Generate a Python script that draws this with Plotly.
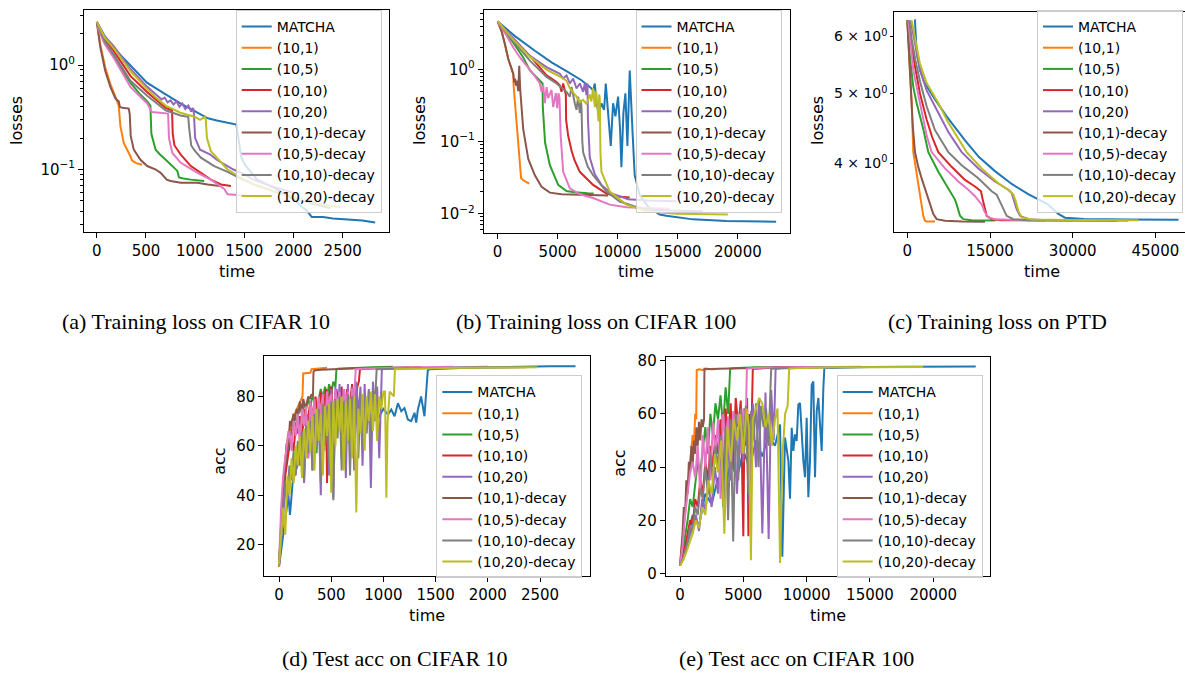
import plotly.graph_objects as go

# ---------------- series names / colours ----------------
NAMES = ["MATCHA", "(10,1)", "(10,5)", "(10,10)", "(10,20)",
         "(10,1)-decay", "(10,5)-decay", "(10,10)-decay", "(10,20)-decay"]
COLORS = ["#1f77b4", "#ff7f0e", "#2ca02c", "#d62728", "#9467bd",
          "#8c564b", "#e377c2", "#7f7f7f", "#bcbd22"]

# ---------------- (a) training loss CIFAR 10 ----------------
A_T_MATCHA = [0, 80, 170, 340, 510, 680, 850, 1000, 1130, 1220, 1390, 1420, 1440, 1470, 1510, 1630, 1830, 2000, 2085, 2140, 2185, 2300, 2400, 2550, 2700, 2830]
A_V_MATCHA = [2.6, 1.9, 1.47, 0.99, 0.68, 0.54, 0.43, 0.36, 0.31, 0.295, 0.275, 0.27, 0.2, 0.13, 0.11, 0.08, 0.065, 0.052, 0.044, 0.04, 0.035, 0.035, 0.034, 0.033, 0.0325, 0.031]
A_T_10_1 = [0, 35, 86, 138, 189, 223, 240, 274, 342, 359, 400, 461]
A_V_10_1 = [2.6, 1.6, 0.95, 0.66, 0.5, 0.41, 0.26, 0.18, 0.134, 0.122, 0.115, 0.111]
A_T_10_5 = [0, 80, 172, 342, 444, 513, 545, 555, 598, 640, 717, 768, 819, 836, 880, 956, 1092]
A_V_10_5 = [2.5, 1.7, 1.2, 0.68, 0.52, 0.45, 0.41, 0.22, 0.155, 0.14, 0.12, 0.108, 0.097, 0.084, 0.082, 0.08, 0.0776]
A_T_10_10 = [0, 80, 172, 342, 513, 640, 700, 765, 772, 790, 854, 956, 1058, 1160, 1262, 1364]
A_V_10_10 = [2.6, 1.8, 1.37, 0.79, 0.55, 0.43, 0.39, 0.37, 0.22, 0.17, 0.139, 0.108, 0.093, 0.08, 0.072, 0.0695]
A_T_10_20 = [0, 80, 172, 342, 513, 600, 630, 660, 690, 720, 750, 780, 810, 840, 870, 900, 930, 960, 980, 988, 1000, 1050, 1150, 1220, 1389, 1500, 1592, 1800, 1999]
A_V_10_20 = [2.6, 1.9, 1.52, 0.92, 0.62, 0.53, 0.5, 0.47, 0.49, 0.44, 0.46, 0.42, 0.45, 0.4, 0.43, 0.38, 0.41, 0.36, 0.39, 0.34, 0.2, 0.155, 0.14, 0.124, 0.1, 0.09, 0.08, 0.068, 0.06]
A_T_10_1D = [0, 35, 86, 138, 189, 223, 235, 260, 325, 335, 345, 376, 444, 513, 600, 649, 711, 751, 854, 1024, 1127, 1250]
A_V_10_1D = [2.6, 1.5, 0.88, 0.62, 0.48, 0.45, 0.397, 0.39, 0.384, 0.34, 0.21, 0.155, 0.124, 0.108, 0.1, 0.093, 0.08, 0.0776, 0.0748, 0.0748, 0.072, 0.0695]
A_T_10_5D = [0, 80, 172, 342, 513, 560, 640, 725, 734, 768, 854, 1024, 1160, 1296, 1330, 1450, 1670]
A_V_10_5D = [2.4, 1.6, 1.18, 0.62, 0.43, 0.356, 0.35, 0.344, 0.2, 0.144, 0.116, 0.093, 0.08, 0.065, 0.058, 0.057, 0.055]
A_T_10_10D = [0, 80, 172, 342, 513, 700, 850, 930, 939, 960, 1000, 1058, 1194, 1330, 1450, 1592, 1800, 1999, 2200, 2372]
A_V_10_10D = [2.5, 1.7, 1.27, 0.71, 0.51, 0.37, 0.33, 0.32, 0.25, 0.17, 0.15, 0.13, 0.108, 0.095, 0.083, 0.072, 0.062, 0.054, 0.047, 0.0425]
A_T_10_20D = [0, 80, 172, 342, 513, 600, 700, 850, 950, 1000, 1050, 1100, 1108, 1120, 1160, 1262, 1330, 1450, 1600, 1800, 2067, 2300, 2473]
A_V_10_20D = [2.6, 1.85, 1.45, 0.88, 0.59, 0.49, 0.41, 0.35, 0.33, 0.32, 0.3, 0.32, 0.3, 0.2, 0.15, 0.116, 0.1, 0.085, 0.072, 0.062, 0.052, 0.046, 0.0434]

# ---------------- (b) training loss CIFAR 100 ----------------
B_T_MATCHA = [0, 1440, 3100, 4487, 5872, 6980, 7673, 7950, 8090, 8227, 8421, 8642, 8864, 9003, 9196, 9418, 9612, 9806, 10027, 10194, 10304, 10471, 10637, 10803, 10997, 11135, 11246, 11412, 11828, 12520, 13490, 14044, 16260, 19030, 23185]
B_V_MATCHA = [4.66, 2.91, 1.82, 1.26, 0.92, 0.71, 0.574, 0.517, 0.64, 0.34, 0.25, 0.34, 0.276, 0.64, 0.25, 0.087, 0.34, 0.224, 0.42, 0.147, 0.044, 0.25, 0.466, 0.087, 0.97, 0.378, 0.12, 0.034, 0.018, 0.0125, 0.0097, 0.0093, 0.0083, 0.0079, 0.0077]
B_T_10_1 = [0, 332, 609, 886, 1163, 1302, 1330, 1496, 1717, 1884, 1950, 2133, 2632]
B_V_10_1 = [4.66, 3.4, 2.24, 1.4, 1.02, 0.87, 0.6, 0.25, 0.087, 0.034, 0.031, 0.029, 0.026]
B_T_10_5 = [0, 600, 1302, 2133, 2687, 3379, 3656, 3740, 3760, 3950, 4349, 5041, 5734, 6400, 7500, 8000]
B_V_10_5 = [4.66, 3.3, 2.36, 1.47, 0.97, 0.75, 0.67, 0.64, 0.3, 0.097, 0.047, 0.025, 0.0206, 0.0198, 0.0191, 0.019]
B_T_10_10 = [0, 1302, 2687, 3518, 4072, 4487, 4903, 5180, 5318, 5457, 5596, 5679, 5700, 5873, 6150, 6400, 6842, 7950, 9058, 10000, 10997]
B_V_10_10 = [4.66, 2.62, 1.55, 1.08, 0.83, 0.75, 0.67, 0.6, 0.49, 0.64, 0.48, 0.45, 0.2, 0.12, 0.075, 0.055, 0.038, 0.025, 0.019, 0.0172, 0.0167]
B_T_10_20 = [0, 1302, 2687, 4072, 4626, 5180, 5457, 5734, 6011, 6288, 6565, 6842, 7119, 7258, 7396, 7479, 7520, 7673, 8088, 8642, 9473, 10858, 12500, 14875]
B_V_10_20 = [4.66, 2.76, 1.55, 1.08, 0.97, 0.87, 0.75, 0.83, 0.64, 0.75, 0.545, 0.64, 0.49, 0.64, 0.44, 0.64, 0.2, 0.06, 0.035, 0.025, 0.019, 0.0158, 0.0152, 0.0148]
B_T_10_1D = [0, 332, 609, 886, 1163, 1302, 1385, 1450, 1523, 1600, 1717, 1800, 1884, 2133, 2548, 3102, 3656, 4349, 5318, 6980, 8642, 9200]
B_V_10_1D = [4.66, 3.4, 2.24, 1.4, 1.02, 0.87, 0.66, 0.75, 0.6, 0.7, 0.5, 1.13, 0.52, 0.147, 0.0574, 0.034, 0.0236, 0.0195, 0.0185, 0.0182, 0.0178, 0.0178]
B_T_10_5D = [0, 609, 1302, 1856, 2410, 2964, 3518, 3656, 3795, 3933, 4072, 4210, 4487, 4626, 4848, 4958, 5069, 5150, 5250, 5318, 5457, 6011, 6842, 7950, 9335, 10720, 12500, 14321]
B_V_10_5D = [4.66, 3.23, 2.02, 1.47, 1.13, 0.87, 0.64, 0.49, 0.6, 0.34, 0.57, 0.4, 0.52, 0.3, 0.47, 0.29, 0.47, 0.4, 0.12, 0.071, 0.038, 0.0224, 0.0185, 0.0164, 0.0133, 0.0122, 0.012, 0.0117]
B_T_10_10D = [0, 1302, 2687, 4072, 4903, 5457, 5734, 6011, 6150, 6427, 6565, 6704, 6842, 6925, 6980, 7050, 7119, 7500, 7950, 9058, 10166, 12105, 14321, 17091]
B_V_10_10D = [4.66, 2.49, 1.33, 0.79, 0.64, 0.545, 0.49, 0.42, 0.574, 0.34, 0.276, 0.42, 0.248, 0.378, 0.3, 0.1, 0.071, 0.045, 0.034, 0.0202, 0.0147, 0.0115, 0.011, 0.0108]
B_T_10_20D = [0, 1302, 2687, 4072, 5180, 5734, 6011, 6288, 6565, 6842, 7119, 7396, 7673, 7800, 7950, 8088, 8200, 8300, 8400, 8450, 8504, 8560, 8642, 9335, 10720, 12382, 14875, 19169]
B_V_10_20D = [4.66, 2.6, 1.5, 1.0, 0.8, 0.7, 0.55, 0.48, 0.42, 0.35, 0.38, 0.33, 0.45, 0.36, 0.55, 0.3, 0.5, 0.32, 0.19, 0.45, 0.4, 0.07, 0.038, 0.0202, 0.0133, 0.0108, 0.0099, 0.0097]

# ---------------- (c) training loss PTD ----------------
C_T_MATCHA = [1250, 1390, 1700, 2300, 3000, 4700, 7100, 9000, 10500, 13000, 15900, 19000, 22000, 24500, 25600, 26500, 27400, 28600, 32000, 40000, 49200]
C_V_MATCHA = [6.32, 6.32, 5.7, 5.39, 5.2, 4.95, 4.65, 4.45, 4.3, 4.08, 3.9, 3.74, 3.62, 3.54, 3.5, 3.45, 3.4, 3.36, 3.345, 3.34, 3.337]
C_T_10_1 = [0, 300, 600, 800, 1089, 1996, 2600, 2903, 3205, 3500, 5020]
C_V_10_1 = [6.32, 5.8, 5.2, 4.85, 4.145, 3.733, 3.506, 3.38, 3.327, 3.32, 3.318]
C_T_10_5 = [0, 484, 1100, 1693, 2903, 3810, 5625, 7439, 8649, 8951, 9253, 9556, 10160, 11673, 16000]
C_V_10_5 = [6.32, 5.6, 5.1, 4.85, 4.46, 4.145, 3.893, 3.694, 3.56, 3.506, 3.434, 3.38, 3.344, 3.333, 3.33]
C_T_10_10 = [200, 700, 1300, 2298, 3508, 4500, 5625, 8044, 10463, 12277, 13366, 13608, 13971, 14394, 15301, 17116, 25000]
C_V_10_10 = [6.32, 5.9, 5.5, 5.0, 4.6, 4.35, 4.145, 3.954, 3.792, 3.713, 3.656, 3.58, 3.47, 3.38, 3.344, 3.333, 3.33]
C_T_10_20 = [600, 1500, 2298, 3508, 5625, 7439, 9858, 12882, 15906, 18325, 18930, 19233, 19838, 20442, 21954, 24978, 30000]
C_V_10_20 = [6.32, 5.8, 5.4, 5.05, 4.7, 4.42, 4.145, 3.934, 3.772, 3.675, 3.637, 3.58, 3.452, 3.38, 3.344, 3.333, 3.33]
C_T_10_1D = [0, 300, 700, 1000, 1391, 2000, 2600, 3508, 4113, 4717, 5322, 6834, 10000, 14092]
C_V_10_1D = [6.32, 5.7, 4.9, 4.5, 4.145, 3.95, 3.81, 3.62, 3.506, 3.4, 3.344, 3.327, 3.32, 3.317]
C_T_10_5D = [180, 600, 1089, 2298, 3508, 4415, 6834, 9253, 11068, 12277, 13487, 14092, 14697, 15906, 20000, 30000, 40098]
C_V_10_5D = [6.32, 5.9, 5.386, 4.85, 4.37, 4.145, 3.934, 3.772, 3.675, 3.599, 3.506, 3.416, 3.362, 3.344, 3.335, 3.33, 3.327]
C_T_10_10D = [360, 800, 1500, 2298, 3508, 5000, 7439, 9858, 12882, 15301, 16209, 16814, 17418, 18023, 19233, 21954, 30000, 38000]
C_V_10_10D = [6.32, 5.95, 5.55, 5.2, 4.8, 4.45, 4.145, 3.975, 3.812, 3.656, 3.618, 3.543, 3.452, 3.38, 3.344, 3.333, 3.33, 3.328]
C_T_10_20D = [786, 1500, 2298, 3508, 5625, 7439, 10765, 13487, 16511, 18628, 19233, 19656, 20140, 20745, 22559, 30000, 41900]
C_V_10_20D = [6.32, 5.92, 5.5, 5.17, 4.85, 4.555, 4.145, 3.934, 3.752, 3.656, 3.618, 3.543, 3.434, 3.362, 3.34, 3.335, 3.333]

# ---------------- (d) test acc CIFAR 10 ----------------
D_T_MATCHA = [0, 30, 60, 90, 105, 130, 160, 200, 250, 300, 350, 400, 450, 500, 550, 600, 650, 700, 750, 800, 850, 900, 950, 1000, 1043, 1075, 1107, 1139, 1171, 1202, 1234, 1266, 1298, 1314, 1330, 1361, 1393, 1409, 1425, 1440, 1600, 1800, 2000, 2200, 2400, 2600, 2840]
D_V_MATCHA = [11, 20, 30, 40, 32, 45, 50, 55, 58, 62, 60, 65, 63, 68, 66, 70, 67, 72, 69, 73, 70, 74, 71, 75, 72.7, 74.7, 72, 77.3, 74, 75.3, 70.7, 70, 73.4, 69.4, 74.7, 80, 72, 80.6, 90.6, 91, 91.4, 91.6, 91.8, 92, 92.1, 92.2, 92.2]
D_T_10_1 = [0, 15, 30, 45, 60, 75, 90, 105, 120, 140, 160, 180, 200, 215, 225, 232, 260, 300, 312, 350, 400, 460]
D_V_10_1 = [11, 25, 38, 47, 55, 60, 66, 63, 70, 72, 74, 76, 78, 79, 80, 89.3, 89.5, 89.6, 91, 91.2, 91.5, 91.6]
D_T_10_5 = [0, 20, 40, 60, 80, 100, 120, 140, 160, 180, 200, 220, 240, 260, 280, 300, 320, 340, 360, 380, 400, 420, 440, 460, 480, 500, 520, 540, 550, 560, 700, 900, 1090]
D_V_10_5 = [12, 30, 45, 52, 58, 62, 66, 70, 68, 72, 76, 73, 77, 75, 79, 76, 80, 78, 57, 79, 83, 79, 84, 80, 85, 81, 86, 84, 91, 91.2, 91.5, 91.8, 92]
D_T_10_10 = [0, 20, 40, 60, 80, 100, 120, 140, 160, 180, 200, 225, 250, 275, 300, 325, 350, 375, 400, 425, 450, 460, 475, 500, 525, 550, 575, 600, 625, 650, 675, 700, 725, 750, 765, 775, 900, 1100, 1364]
D_V_10_10 = [12, 28, 40, 48, 55, 60, 63, 58, 68, 65, 72, 66, 75, 70, 78, 72, 80, 68, 82, 74, 83, 45, 80, 84, 70, 83, 76, 84, 60, 83, 75, 85, 70, 84, 86, 91, 91.3, 91.6, 91.8]
D_T_10_20 = [0, 20, 40, 60, 80, 100, 120, 140, 160, 180, 200, 220, 240, 260, 280, 300, 320, 340, 360, 380, 400, 420, 440, 460, 480, 500, 520, 540, 560, 580, 600, 620, 640, 660, 680, 700, 720, 740, 760, 780, 800, 820, 840, 860, 880, 900, 920, 940, 960, 975, 985, 1100, 1300, 1500, 1700, 2000]
D_V_10_20 = [12, 22, 35, 42, 38, 50, 46, 55, 48, 60, 52, 65, 45, 70, 55, 72, 50, 75, 60, 78, 40, 80, 65, 82, 48, 83, 39, 84, 70, 85, 55, 83, 47, 85, 62, 84, 50, 86, 72, 84, 52, 85, 65, 83, 43, 86, 70, 84, 55, 82, 91, 91.3, 91.5, 91.7, 91.8, 92]
D_T_10_1D = [0, 15, 25, 40, 51, 60, 73, 85, 95, 105, 120, 137, 150, 169, 185, 200, 215, 232, 250, 264, 280, 296, 312, 325, 330, 340, 400, 500, 600, 800, 1000, 1250]
D_V_10_1D = [12, 22, 31, 42, 50, 56, 61, 58, 65, 70, 68, 73, 70, 75, 73, 78, 74, 79, 76, 77, 80, 79, 81, 80, 90, 90.5, 90.8, 91, 91.2, 91.5, 91.6, 91.7]
D_T_10_5D = [0, 20, 40, 60, 80, 100, 120, 140, 160, 180, 200, 220, 240, 260, 280, 300, 320, 340, 360, 380, 400, 420, 440, 460, 480, 500, 520, 540, 560, 580, 600, 620, 640, 660, 680, 700, 720, 735, 800, 1000, 1300, 1670]
D_V_10_5D = [12, 35, 48, 56, 62, 66, 58, 70, 64, 73, 60, 75, 68, 76, 55, 78, 70, 79, 62, 80, 72, 81, 58, 82, 74, 81, 66, 83, 76, 82, 64, 83, 78, 82, 70, 83, 80, 91, 91.2, 91.5, 91.7, 92]
D_T_10_10D = [0, 20, 40, 60, 80, 100, 120, 140, 160, 180, 200, 220, 240, 260, 280, 300, 320, 340, 360, 380, 400, 420, 440, 460, 480, 500, 520, 540, 560, 580, 600, 620, 640, 660, 680, 700, 720, 740, 760, 780, 800, 820, 840, 860, 880, 900, 920, 935, 1050, 1300, 1700, 2370]
D_V_10_10D = [12, 25, 35, 45, 40, 52, 48, 58, 50, 62, 55, 66, 46, 68, 57, 70, 50, 73, 62, 75, 45, 77, 60, 76, 52, 78, 38, 79, 63, 80, 50, 78, 58, 81, 48, 80, 65, 79, 55, 81, 60, 80, 66, 82, 62, 83, 78, 91, 91.2, 91.4, 91.6, 91.8]
D_T_10_20D = [0, 10, 20, 30, 40, 50, 60, 80, 100, 120, 140, 160, 180, 200, 220, 240, 260, 280, 300, 320, 340, 360, 380, 400, 420, 440, 460, 480, 500, 520, 540, 560, 580, 600, 620, 640, 660, 680, 700, 720, 740, 760, 780, 800, 820, 840, 860, 880, 900, 920, 940, 960, 980, 1000, 1015, 1028, 1040, 1060, 1080, 1100, 1110, 1300, 1600, 2000, 2473]
D_V_10_20D = [12, 18, 24, 28, 35, 30, 24, 48, 40, 55, 45, 60, 52, 64, 47, 67, 55, 70, 58, 72, 50, 75, 62, 73, 48, 76, 64, 77, 41, 78, 60, 79, 66, 80, 50, 78, 62, 79, 55, 80, 33, 75, 65, 81, 58, 80, 70, 82, 66, 81, 62, 80, 75, 82, 82, 39, 70, 82, 81, 80, 91, 91.3, 91.5, 91.7, 91.8]

# ---------------- (e) test acc CIFAR 100 ----------------
E_T_MATCHA = [0, 300, 600, 1000, 1500, 2000, 2500, 3000, 3500, 4000, 4500, 5000, 5500, 6000, 6500, 7000, 7500, 7900, 8081, 8291, 8554, 8686, 8818, 8949, 9081, 9212, 9344, 9476, 9608, 9739, 9870, 10002, 10134, 10265, 10397, 10528, 10660, 10792, 10923, 11055, 11186, 11318, 11397, 11500, 13000, 15000, 18000, 21000, 23350]
E_V_MATCHA = [3, 8, 14, 22, 18, 30, 26, 36, 30, 42, 36, 46, 40, 50, 44, 52, 48, 56, 6.3, 51.1, 42.4, 28.1, 54.8, 46.1, 52.3, 49.8, 63.5, 64.1, 52.3, 42.4, 36.2, 58.5, 28.7, 42.4, 70.9, 72.2, 36.2, 61, 66, 53.5, 46.1, 69.7, 77.1, 77.3, 77.5, 77.6, 77.7, 77.8, 77.8]
E_T_10_1 = [0, 150, 300, 450, 600, 750, 900, 1000, 1100, 1200, 1280, 1320, 1500, 1800, 2100, 2400, 2764]
E_V_10_1 = [3, 10, 18, 26, 33, 40, 45, 52, 48, 60, 58, 76.5, 76.8, 76.5, 76.8, 77, 77]
E_T_10_5 = [0, 200, 400, 600, 800, 1000, 1200, 1400, 1600, 1800, 2000, 2200, 2400, 2600, 2800, 3000, 3200, 3400, 3600, 3800, 3900, 3960, 4200, 5000, 6000, 7000, 8000]
E_V_10_5 = [3, 8, 14, 20, 28, 25, 35, 42, 38, 48, 55, 45, 60, 52, 64, 58, 67, 55, 70, 60, 70, 77, 77.2, 77.4, 77.5, 77.5, 77.6]
E_T_10_10 = [0, 200, 400, 600, 800, 1000, 1200, 1400, 1600, 1800, 2000, 2200, 2400, 2600, 2800, 3000, 3200, 3400, 3600, 3800, 4000, 4200, 4400, 4600, 4800, 5000, 5100, 5200, 5300, 5400, 5500, 5600, 5700, 5750, 6000, 7000, 8000, 9000, 10000, 11000]
E_V_10_10 = [3, 6, 10, 15, 20, 18, 28, 25, 35, 30, 42, 35, 48, 40, 52, 45, 58, 30, 62, 50, 64, 40, 66, 55, 65, 14, 62, 48, 66, 14, 60, 45, 65, 77, 77, 77.3, 77.5, 77.5, 77.6, 77.6]
E_T_10_20 = [0, 250, 500, 750, 1000, 1250, 1500, 1750, 2000, 2250, 2500, 2750, 3000, 3250, 3500, 3750, 4000, 4250, 4500, 4750, 5000, 5250, 5500, 5750, 6000, 6250, 6500, 6750, 7000, 7200, 7400, 7480, 7550, 8000, 9000, 10000, 12000, 14875]
E_V_10_20 = [3, 6, 10, 14, 18, 22, 16, 28, 24, 33, 25, 40, 30, 45, 22, 50, 35, 55, 30, 58, 42, 62, 25, 64, 40, 66, 15, 68, 13, 69, 50, 70, 77, 77.2, 77.4, 77.5, 77.6, 77.6]
E_T_10_1D = [0, 100, 200, 300, 400, 500, 600, 700, 800, 900, 1000, 1100, 1200, 1300, 1400, 1500, 1600, 1700, 1800, 1900, 1930, 2100, 2500, 3000, 4000, 5000, 6000, 7000, 8000, 9200]
E_V_10_1D = [3, 8, 15, 25, 22, 35, 30, 42, 38, 48, 40, 50, 45, 55, 48, 57, 50, 58, 55, 58, 77, 77, 76.8, 77, 77, 77.2, 77.3, 77.4, 77.5, 77.5]
E_T_10_5D = [0, 200, 400, 600, 800, 1000, 1200, 1400, 1600, 1800, 2000, 2200, 2400, 2600, 2800, 3000, 3200, 3400, 3600, 3800, 4000, 4200, 4400, 4600, 4800, 5000, 5200, 5280, 5500, 6000, 7000, 8000, 10000, 12000, 14300]
E_V_10_5D = [3, 10, 22, 30, 38, 42, 36, 48, 30, 52, 40, 55, 35, 57, 45, 58, 28, 60, 50, 59, 38, 61, 55, 60, 45, 62, 58, 77, 77.2, 77.3, 77.4, 77.5, 77.6, 77.6, 77.7]
E_T_10_10D = [0, 200, 400, 600, 800, 1000, 1200, 1400, 1600, 1800, 2000, 2200, 2400, 2600, 2800, 3000, 3200, 3400, 3600, 3800, 4000, 4200, 4400, 4600, 4800, 5000, 5200, 5400, 5600, 5800, 6000, 6200, 6400, 6600, 6800, 7000, 7100, 7200, 8000, 10000, 12000, 14000, 17100]
E_V_10_10D = [3, 5, 8, 12, 18, 15, 25, 22, 32, 28, 40, 30, 45, 35, 48, 40, 52, 25, 55, 20, 58, 12, 60, 35, 62, 45, 63, 30, 61, 50, 64, 40, 63, 55, 62, 48, 64, 77, 77.2, 77.4, 77.5, 77.6, 77.6]
E_T_10_20D = [0, 250, 500, 750, 1000, 1250, 1500, 1750, 2000, 2250, 2500, 2750, 3000, 3250, 3500, 3750, 4000, 4250, 4500, 4750, 5000, 5250, 5450, 5600, 5750, 6000, 6250, 6500, 6750, 7000, 7250, 7500, 7700, 7900, 8100, 8300, 8500, 8620, 9000, 10000, 12000, 15000, 19200]
E_V_10_20D = [3, 5, 8, 12, 15, 20, 17, 25, 22, 35, 30, 45, 38, 50, 15, 55, 42, 58, 50, 60, 45, 62, 55, 5, 58, 62, 66, 64, 55, 60, 48, 58, 62, 4, 45, 60, 63, 77, 77.2, 77.3, 77.5, 77.5, 77.6]

# ---------------- axis tick labels / captions ----------------
A_TICKS = [0.1, 1]
A_TICKTEXT = ["10<sup>\u22121</sup>", "10<sup>0</sup>"]
B_TICKS = [0.01, 0.1, 1]
B_TICKTEXT = ["10<sup>\u22122</sup>", "10<sup>\u22121</sup>", "10<sup>0</sup>"]
C_TICKS = [4, 5, 6]
C_TICKTEXT = ["4 \u00d7 10<sup>0</sup>", "5 \u00d7 10<sup>0</sup>", "6 \u00d7 10<sup>0</sup>"]
X_TICKS_SMALL = [0, 500, 1000, 1500, 2000, 2500]
X_TICKS_BIG = [0, 5000, 10000, 15000, 20000]
X_TICKS_PTD = [0, 15000, 30000, 45000]
CAPTIONS = ["(a) Training loss on CIFAR 10", "(b) Training loss on CIFAR 100",
            "(c) Training loss on PTD", "(d) Test acc on CIFAR 10",
            "(e) Test acc on CIFAR 100"]

PANELS = [
    ("x", "y", "legend", [(A_T_MATCHA, A_V_MATCHA), (A_T_10_1, A_V_10_1), (A_T_10_5, A_V_10_5),
                          (A_T_10_10, A_V_10_10), (A_T_10_20, A_V_10_20), (A_T_10_1D, A_V_10_1D),
                          (A_T_10_5D, A_V_10_5D), (A_T_10_10D, A_V_10_10D), (A_T_10_20D, A_V_10_20D)]),
    ("x2", "y2", "legend2", [(B_T_MATCHA, B_V_MATCHA), (B_T_10_1, B_V_10_1), (B_T_10_5, B_V_10_5),
                             (B_T_10_10, B_V_10_10), (B_T_10_20, B_V_10_20), (B_T_10_1D, B_V_10_1D),
                             (B_T_10_5D, B_V_10_5D), (B_T_10_10D, B_V_10_10D), (B_T_10_20D, B_V_10_20D)]),
    ("x3", "y3", "legend3", [(C_T_MATCHA, C_V_MATCHA), (C_T_10_1, C_V_10_1), (C_T_10_5, C_V_10_5),
                             (C_T_10_10, C_V_10_10), (C_T_10_20, C_V_10_20), (C_T_10_1D, C_V_10_1D),
                             (C_T_10_5D, C_V_10_5D), (C_T_10_10D, C_V_10_10D), (C_T_10_20D, C_V_10_20D)]),
    ("x4", "y4", "legend4", [(D_T_MATCHA, D_V_MATCHA), (D_T_10_1, D_V_10_1), (D_T_10_5, D_V_10_5),
                             (D_T_10_10, D_V_10_10), (D_T_10_20, D_V_10_20), (D_T_10_1D, D_V_10_1D),
                             (D_T_10_5D, D_V_10_5D), (D_T_10_10D, D_V_10_10D), (D_T_10_20D, D_V_10_20D)]),
    ("x5", "y5", "legend5", [(E_T_MATCHA, E_V_MATCHA), (E_T_10_1, E_V_10_1), (E_T_10_5, E_V_10_5),
                             (E_T_10_10, E_V_10_10), (E_T_10_20, E_V_10_20), (E_T_10_1D, E_V_10_1D),
                             (E_T_10_5D, E_V_10_5D), (E_T_10_10D, E_V_10_10D), (E_T_10_20D, E_V_10_20D)]),
]

W, H = 1185, 683
FONT = "DejaVu Sans"


def px(x):
    return x / W


def py(y):
    return 1 - y / H


fig = go.Figure()
for xa, ya, lg, series in PANELS:
    for (t, v), name, col in zip(series, NAMES, COLORS):
        fig.add_trace(go.Scatter(x=t, y=v, mode="lines", name=name, xaxis=xa, yaxis=ya,
                                 legend=lg, line=dict(color=col, width=2),
                                 hoverinfo="skip"))


def log_minor(lo, hi):
    out = []
    for k in range(-3, 2):
        for m in range(2, 10):
            val = m * 10 ** k
            if lo <= val <= hi:
                out.append(val)
    return out


def xticks(vals):
    return dict(tickvals=vals, ticktext=[str(v) for v in vals])


base_axis = dict(showline=True, linecolor="black", linewidth=1, mirror=True,
                 ticks="outside", ticklen=5, tickwidth=1, tickcolor="black",
                 showgrid=False, zeroline=False,
                 tickfont=dict(family=FONT, size=15, color="black"))

layout = dict(
    width=W, height=H, margin=dict(l=0, r=0, t=0, b=0),
    paper_bgcolor="white", plot_bgcolor="white",
    font=dict(family=FONT, size=14, color="black"),
    hovermode=False,
)

layout["xaxis"] = dict(base_axis, domain=[px(84), px(389.4)], range=[-130, 2975], anchor="y",
                       **xticks(X_TICKS_SMALL))
layout["yaxis"] = dict(base_axis, domain=[py(231.5), py(5)], type="log", range=[-1.603, 0.530],
                       anchor="x", tickvals=A_TICKS, ticktext=A_TICKTEXT,
                       minor=dict(ticks="outside", ticklen=3, tickcolor="black",
                                  tickvals=log_minor(0.02, 4)))
layout["xaxis2"] = dict(base_axis, domain=[px(483.7), px(790)], range=[-1160, 24340], anchor="y2",
                        **xticks(X_TICKS_BIG))
layout["yaxis2"] = dict(base_axis, domain=[py(231.7), py(5)], type="log", range=[-2.265, 0.828],
                        anchor="x2", tickvals=B_TICKS, ticktext=B_TICKTEXT,
                        minor=dict(ticks="outside", ticklen=3, tickcolor="black",
                                   tickvals=log_minor(0.005, 7)))
layout["xaxis3"] = dict(base_axis, domain=[px(894.3), 1.0], range=[-2358, 50370], anchor="y3",
                        **xticks(X_TICKS_PTD))
layout["yaxis3"] = dict(base_axis, domain=[py(231), py(6.7)], type="log", range=[0.5065, 0.8129],
                        anchor="x3", tickvals=C_TICKS, ticktext=C_TICKTEXT, ticklen=3,
                        mirror=False, tickfont=dict(family=FONT, size=14, color="black"))
layout["xaxis4"] = dict(base_axis, domain=[px(264.3), px(589.5)], range=[-141, 2974], anchor="y4",
                        **xticks(X_TICKS_SMALL))
layout["yaxis4"] = dict(base_axis, domain=[py(581), py(357)], range=[7.4, 96.5], anchor="x4",
                        tickvals=[20, 40, 60, 80])
layout["xaxis5"] = dict(base_axis, domain=[px(665.7), px(990)], range=[-1129, 24477], anchor="y5",
                        **xticks(X_TICKS_BIG))
layout["yaxis5"] = dict(base_axis, domain=[py(581), py(358)], range=[-0.86, 81.5], anchor="x5",
                        tickvals=[0, 20, 40, 60, 80])

leg_base = dict(xanchor="right", yanchor="top", bgcolor="rgba(255,255,255,0.8)",
                bordercolor="#cccccc", borderwidth=1,
                font=dict(family=FONT, size=14, color="black"), tracegroupgap=0)
layout["legend"] = dict(leg_base, x=px(381.7), y=py(5))
layout["legend2"] = dict(leg_base, x=px(781.5), y=py(5))
layout["legend3"] = dict(leg_base, x=px(1183), y=py(5))
layout["legend4"] = dict(leg_base, x=px(582.3), y=py(377))
layout["legend5"] = dict(leg_base, x=px(982.7), y=py(377))

fig.update_layout(**layout)

ann = []
for txt, x, y, ang in [("losses", 17, 118, -90), ("losses", 420, 118, -90), ("losses", 818, 118, -90),
                       ("acc", 220, 465, -90), ("acc", 620, 467, -90),
                       ("time", 236.5, 271.5, 0), ("time", 636, 271.5, 0), ("time", 1042, 271.5, 0),
                       ("time", 427, 621.5, 0), ("time", 828, 621.5, 0)]:
    ann.append(dict(text=txt, x=px(x), y=py(y), xref="paper", yref="paper", showarrow=False,
                    xanchor="center", yanchor="middle", textangle=ang,
                    font=dict(family=FONT, size=16, color="black")))
for txt, x, y in zip(CAPTIONS, [196, 596, 997, 395, 796], [322, 322, 322, 665, 665]):
    ann.append(dict(text=txt, x=px(x), y=py(y), xref="paper", yref="paper", showarrow=False,
                    xanchor="center", yanchor="middle",
                    font=dict(family="Liberation Serif", size=22, color="black")))
fig.update_layout(annotations=ann)

fig.write_html("out.html", config={"displayModeBar": False, "staticPlot": True},
               post_script="document.body.style.margin='0px';document.body.style.overflow='hidden';")
